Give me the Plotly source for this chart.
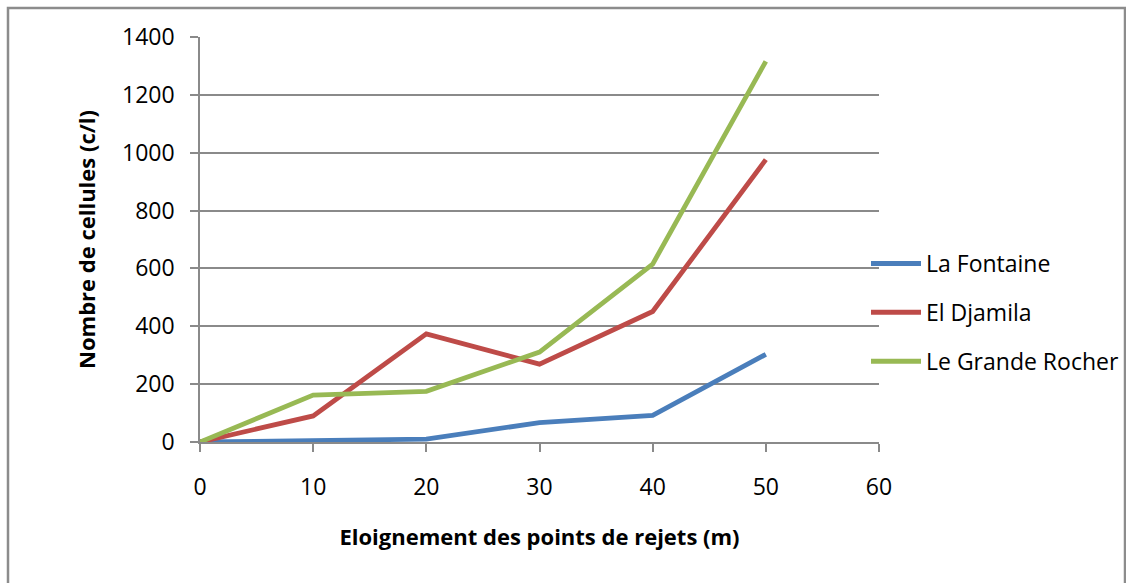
import plotly.graph_objects as go

# Distance from discharge points (m)
distance = [0, 10, 20, 30, 40, 50]

# Cell counts (c/l) per site
la_fontaine = [0, 3, 10, 67, 92, 303]
el_djamila = [0, 90, 374, 269, 451, 976]
grande_rocher = [0, 162, 175, 311, 615, 1316]

series = [
    ("La Fontaine", la_fontaine, "#4A7EBB"),
    ("El Djamila", el_djamila, "#BE4B48"),
    ("Le Grande Rocher", grande_rocher, "#98B954"),
]

FONT = "'Open Sans', 'Noto Sans', Arial, sans-serif"
GRID = "#8A8A8A"
FS = 23
FT = 22

fig = go.Figure()
for i, (name, vals, color) in enumerate(series):
    fig.add_trace(go.Scatter(
        x=distance, y=vals, name=name, mode="lines",
        line=dict(color=color, width=4.8),
        legendgroup=f"g{i}",
    ))

L, R, T, B = 200, 247, 37, 141
W, H = 1126, 583
pw = W - L - R
ph = H - T - B

fig.update_layout(
    width=W, height=H,
    margin=dict(l=L, r=R, t=T, b=B, pad=0, autoexpand=False),
    paper_bgcolor="white", plot_bgcolor="white",
    font=dict(family=FONT, size=FS, color="#000000"),
    showlegend=True,
    legend=dict(
        x=(866 - L) / pw, y=(H - 242 - B) / ph, xanchor="left", yanchor="top",
        bgcolor="rgba(0,0,0,0)", font=dict(size=FS, family=FONT),
        itemwidth=50, tracegroupgap=16, itemsizing="constant",
    ),
    xaxis=dict(
        range=[0, 60], tickvals=[0, 10, 20, 30, 40, 50, 60],
        showgrid=False, zeroline=False,
        showline=True, linecolor=GRID, linewidth=1.5,
        ticks="outside", ticklen=8, tickcolor=GRID, tickwidth=1.5,
        ticklabelstandoff=16,
        tickfont=dict(size=FS, family=FONT),
        title=dict(text="<b>Eloignement des points de rejets (m)</b>",
                   font=dict(size=FT, family=FONT), standoff=28),
    ),
    yaxis=dict(
        range=[0, 1400], tickvals=[0, 200, 400, 600, 800, 1000, 1200, 1400],
        showgrid=True, gridcolor=GRID, gridwidth=1.5, zeroline=False,
        showline=True, linecolor=GRID, linewidth=1.5,
        ticks="outside", ticklen=8, tickcolor=GRID, tickwidth=1.5,
        ticklabelstandoff=11,
        tickfont=dict(size=FS, family=FONT),
        title=dict(text="<b>Nombre de cellules (c/l)</b>",
                   font=dict(size=FT, family=FONT), standoff=20),
    ),
)

# Grey frame around the whole chart
fig.add_shape(
    type="rect", xref="paper", yref="paper",
    x0=(8 - L) / pw, x1=(1125 - L) / pw,
    y0=(H - 600 - B) / ph, y1=(H - 8 - B) / ph,
    line=dict(color="#8C8C8C", width=2.5), fillcolor="rgba(0,0,0,0)",
    layer="below",
)

fig.write_html("out.html")
